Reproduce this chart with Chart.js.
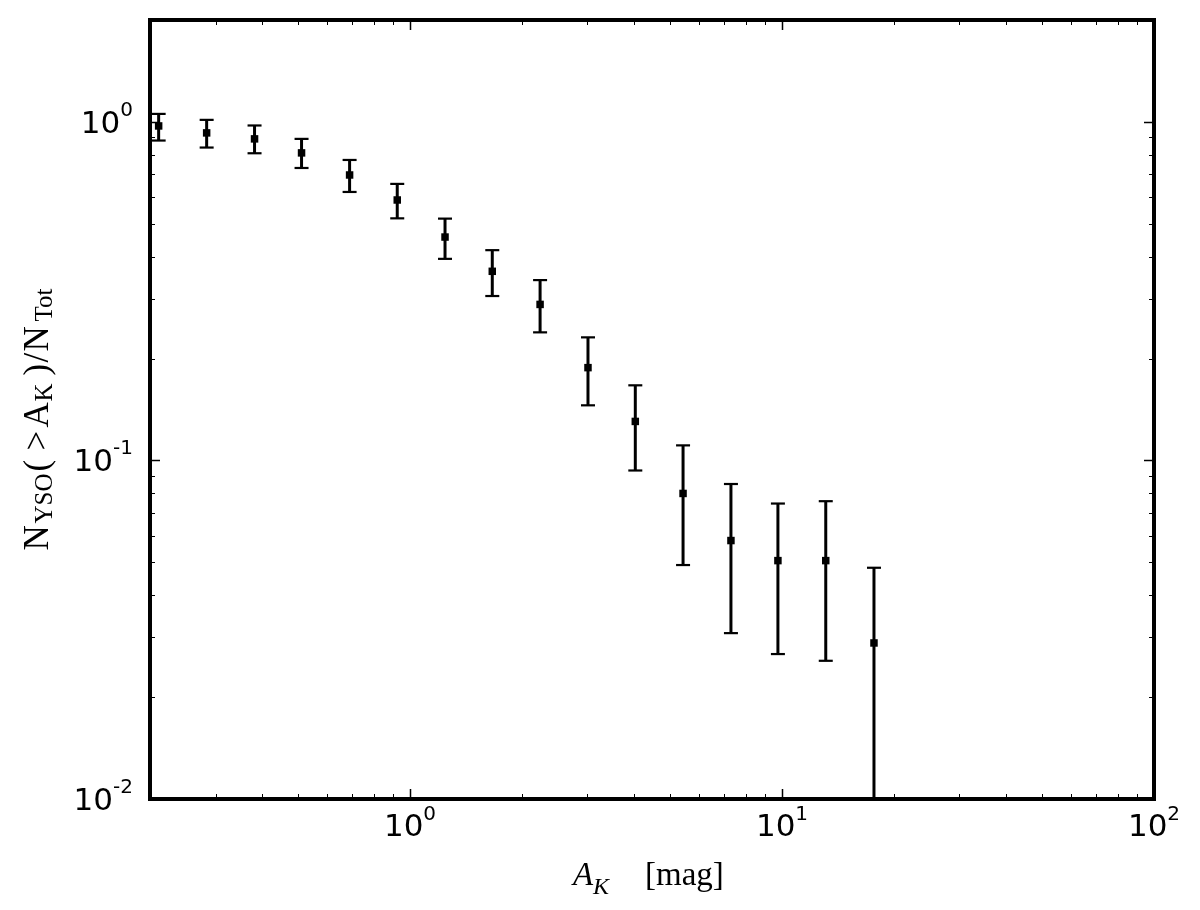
<!DOCTYPE html>
<html>
<head>
<meta charset="utf-8">
<title>N_YSO(&gt;A_K)/N_Tot vs A_K</title>
<script src="https://cdn.jsdelivr.net/npm/chart.js@4.4.1/dist/chart.umd.min.js"></script>
<style>
  html, body { margin: 0; padding: 0; background: #fff; }
  #wrap { width: 1200px; height: 910px; }
</style>
</head>
<body>
<div id="wrap"><canvas id="chart" width="1200" height="910"></canvas></div>
<script>
// --- data ---
var extinction   = [0.211, 0.284, 0.382, 0.511, 0.688, 0.924, 1.242, 1.664, 2.237, 3.009, 4.033, 5.42, 7.29, 9.75, 13.11, 17.67];
var fraction     = [0.973, 0.928, 0.891, 0.810, 0.697, 0.588, 0.457, 0.362, 0.289, 0.188, 0.1304, 0.0799, 0.058, 0.0506, 0.0506, 0.0289];
var fractionHigh = [1.056, 1.014, 0.976, 0.891, 0.772, 0.656, 0.518, 0.418, 0.341, 0.231, 0.1667, 0.1108, 0.0852, 0.0746, 0.0758, 0.0482];
var fractionLow  = [0.881, 0.840, 0.808, 0.731, 0.621, 0.519, 0.394, 0.306, 0.239, 0.1455, 0.0934, 0.0491, 0.0309, 0.0268, 0.0256, 0];

// axis ticks
var xMajor    = [1, 10, 100];
var xMajorExp = ['0', '1', '2'];
var xMinor    = [0.2, 0.3, 0.4, 0.5, 0.6, 0.7, 0.8, 0.9, 2, 3, 4, 5, 6, 7, 8, 9, 20, 30, 40, 50, 60, 70, 80, 90];
var yMajor    = [0.01, 0.1, 1];
var yMajorExp = ['-2', '-1', '0'];
var yMinor    = [0.02, 0.03, 0.04, 0.05, 0.06, 0.07, 0.08, 0.09, 0.2, 0.3, 0.4, 0.5, 0.6, 0.7, 0.8, 0.9, 2];

var TICK_FONT = '31px "DejaVu Sans"';
var SUP_FONT  = '20px "DejaVu Sans"';
var SERIF     = '"Liberation Serif", "DejaVu Serif", serif';

// text runs drawn one after another, offsets in px from the run start
function drawRuns(ctx, runs) {
    runs.forEach(function (r) {
        ctx.font = r.font;
        ctx.fillText(r.t, r.at, r.dy || 0);
    });
}

function expLabel(ctx, base, exp, x, y, align, raise) {
    ctx.font = TICK_FONT;
    var wb = ctx.measureText(base).width;
    ctx.font = SUP_FONT;
    var we = ctx.measureText(exp).width;
    var left = align === 'center' ? x - (wb + we) / 2 : x - (wb + we);
    ctx.font = TICK_FONT;
    ctx.fillText(base, left, y);
    ctx.font = SUP_FONT;
    ctx.fillText(exp, left + wb, y - raise);
}

var errorBars = {
    id: 'errorBars',
    beforeDatasetsDraw: function (chart) {
        var ctx = chart.ctx, xs = chart.scales.x, ys = chart.scales.y, a = chart.chartArea;
        ctx.save();
        ctx.beginPath();
        ctx.rect(a.left, a.top, a.right - a.left, a.bottom - a.top);
        ctx.clip();
        ctx.strokeStyle = '#000';
        extinction.forEach(function (v, i) {
            var px = xs.getPixelForValue(v);
            var top = ys.getPixelForValue(fractionHigh[i]);
            var bot = fractionLow[i] > 0 ? ys.getPixelForValue(fractionLow[i]) : a.bottom + 5;
            ctx.lineWidth = 3;
            ctx.beginPath(); ctx.moveTo(px, top); ctx.lineTo(px, bot); ctx.stroke();
            ctx.lineWidth = 2.2;
            ctx.beginPath(); ctx.moveTo(px - 7, top); ctx.lineTo(px + 7, top); ctx.stroke();
            if (fractionLow[i] > 0) {
                ctx.beginPath(); ctx.moveTo(px - 7, bot); ctx.lineTo(px + 7, bot); ctx.stroke();
            }
        });
        ctx.restore();
    }
};

// inward ticks on all four sides + heavy frame (matplotlib look)
var frame = {
    id: 'frame',
    afterDatasetsDraw: function (chart) {
        var ctx = chart.ctx, xs = chart.scales.x, ys = chart.scales.y, a = chart.chartArea;
        ctx.save();
        ctx.strokeStyle = '#000';
        function xt(vals, len, w) {
            ctx.lineWidth = w;
            vals.forEach(function (v) {
                var p = Math.round(xs.getPixelForValue(v)) + 0.5;
                ctx.beginPath();
                ctx.moveTo(p, a.bottom); ctx.lineTo(p, a.bottom - len);
                ctx.moveTo(p, a.top); ctx.lineTo(p, a.top + len);
                ctx.stroke();
            });
        }
        function yt(vals, len, w) {
            ctx.lineWidth = w;
            vals.forEach(function (v) {
                var p = Math.round(ys.getPixelForValue(v)) + 0.5;
                ctx.beginPath();
                ctx.moveTo(a.left, p); ctx.lineTo(a.left + len, p);
                ctx.moveTo(a.right, p); ctx.lineTo(a.right - len, p);
                ctx.stroke();
            });
        }
        xt(xMinor, 5, 1); xt(xMajor, 10, 1.5);
        yt(yMinor, 5, 1); yt(yMajor, 10, 1.5);
        ctx.lineWidth = 4;
        ctx.lineJoin = 'miter';
        ctx.strokeRect(a.left, a.top, a.right - a.left, a.bottom - a.top);
        ctx.restore();
    }
};

var labels = {
    id: 'labels',
    afterDraw: function (chart) {
        var ctx = chart.ctx, xs = chart.scales.x, ys = chart.scales.y, a = chart.chartArea;
        ctx.save();
        ctx.fillStyle = '#000';
        ctx.textBaseline = 'alphabetic';
        ctx.textAlign = 'left';

        xMajor.forEach(function (v, i) {
            expLabel(ctx, '10', xMajorExp[i], xs.getPixelForValue(v), a.bottom + 37, 'center', 16);
        });
        yMajor.forEach(function (v, i) {
            expLabel(ctx, '10', yMajorExp[i], a.left - 17, ys.getPixelForValue(v) + 11, 'right', 17);
        });

        // x title: A_K [mag]
        ctx.save();
        ctx.translate((a.left + a.right) / 2 - 79, a.bottom + 86);
        drawRuns(ctx, [
            { t: 'A', at: 0, font: 'italic 33px ' + SERIF },
            { t: 'K', at: 20, dy: 9, font: 'italic 24px ' + SERIF },
            { t: '[mag]', at: 72, font: '33px ' + SERIF }
        ]);
        ctx.restore();

        // y title: N_YSO(>A_K)/N_Tot
        ctx.save();
        ctx.translate(a.left - 102, (a.top + a.bottom) / 2 + 141);
        ctx.rotate(-Math.PI / 2);
        var M = '35px ' + SERIF, S = '25px ' + SERIF;
        drawRuns(ctx, [
            { t: 'N', at: 0, font: M },
            { t: 'YSO', at: 27, dy: 4, font: S },
            { t: '(', at: 79, font: M },
            { t: '>', at: 100, font: M },
            { t: 'A', at: 123, font: M },
            { t: 'K', at: 149, dy: 4, font: S },
            { t: ')', at: 175, font: M },
            { t: '/', at: 188, font: M },
            { t: 'N', at: 199, font: M },
            { t: 'Tot', at: 229, dy: 4, font: S }
        ]);
        ctx.restore();
        ctx.restore();
    }
};

new Chart(document.getElementById('chart'), {
    type: 'scatter',
    data: {
        datasets: [{
            label: 'N_YSO(>A_K)/N_Tot',
            data: extinction.map(function (v, i) { return { x: v, y: fraction[i] }; }),
            pointStyle: 'rect',
            pointRadius: 5.3,
            pointHoverRadius: 5.3,
            backgroundColor: '#000',
            borderWidth: 0
        }]
    },
    options: {
        responsive: false,
        animation: false,
        layout: { padding: { left: 150, right: 46, top: 20, bottom: 111 } },
        plugins: { legend: { display: false }, tooltip: { enabled: false } },
        scales: {
            x: { type: 'logarithmic', min: 0.2, max: 100, display: false },
            y: { type: 'logarithmic', min: 0.01, max: 2, display: false }
        }
    },
    plugins: [errorBars, frame, labels]
});
</script>
</body>
</html>
